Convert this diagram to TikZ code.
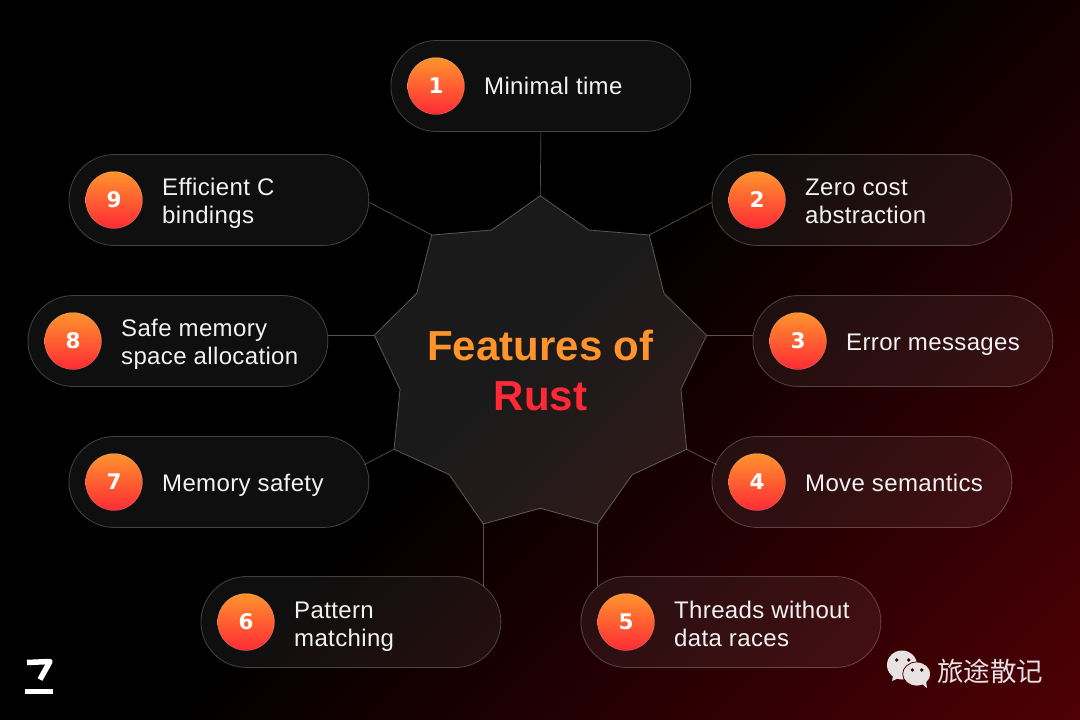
\documentclass[tikz,border=0pt]{standalone}
\usepackage{fontspec}
\setmainfont{Liberation Sans}
\newfontfamily\labelfont[LetterSpace=1.5]{Liberation Sans}
\newfontfamily\digitfont{DejaVu Sans}
\newfontfamily\cjkfont{Noto Sans CJK SC}
\usetikzlibrary{shapes.misc}
\definecolor{rustorange}{HTML}{FF942D}
\definecolor{rustred}{HTML}{FF2A36}
\definecolor{wechatgrey}{HTML}{E8E2E2}
\definecolor{bgdeep}{HTML}{4E0006}
\pgfdeclarehorizontalshading{bgred}{100bp}{color(0bp)=(black);color(49bp)=(black);color(79.5bp)=(bgdeep);color(100bp)=(bgdeep)}
\tikzset{
	pill/.style={draw=white,draw opacity=0.24,fill=white,fill opacity=0.06,rounded rectangle,minimum width=300pt,minimum height=91pt,inner sep=0pt,line width=0.8pt},
	badge/.style={circle,minimum size=57pt,inner sep=0pt,draw=white,draw opacity=0.25,line width=0.5pt,top color=rustorange,bottom color=rustred,text=white,font=\digitfont\fontsize{21.5}{22}\selectfont\bfseries},
	pilltext/.style={anchor=base west,align=left,text=white!95!black,inner sep=0pt,font=\labelfont\fontsize{24}{28}\selectfont},
	link/.style={draw=white,draw opacity=0.32,line width=0.7pt},
	bubble/.style={fill=wechatgrey}
}
\begin{document}
\begin{tikzpicture}[x=1pt,y=-1pt]
	\useasboundingbox (0,0) rectangle (1080,720);
	\begin{scope}
		\clip (0,0) rectangle (1080,720);
		\shade[shading=bgred,shading angle=-45] (0,-180) rectangle (1080,900);
	\end{scope}
	% star outline
	\coordinate (s1) at (540.3,195.7);
	\coordinate (s2) at (589,230);
	\coordinate (s3) at (649.3,235);
	\coordinate (s4) at (664,293.3);
	\coordinate (s5) at (706.7,335.3);
	\coordinate (s6) at (681,389.3);
	\coordinate (s7) at (686.7,449.3);
	\coordinate (s8) at (632.3,474.7);
	\coordinate (s9) at (597.3,524);
	\coordinate (s10) at (540.3,508.3);
	\coordinate (s11) at (483.3,524);
	\coordinate (s12) at (449.3,474.7);
	\coordinate (s13) at (394,449.3);
	\coordinate (s14) at (400,389.3);
	\coordinate (s15) at (374.3,335.3);
	\coordinate (s16) at (416.7,293.3);
	\coordinate (s17) at (431.7,235);
	\coordinate (s18) at (491.7,230);
	\draw[draw=white,draw opacity=0.3,fill=white,fill opacity=0.1,line width=0.8pt] (s1) -- (s2) -- (s3) -- (s4) -- (s5) -- (s6) -- (s7) -- (s8) -- (s9) -- (s10) -- (s11) -- (s12) -- (s13) -- (s14) -- (s15) -- (s16) -- (s17) -- (s18) -- cycle;
	\node[text=rustorange,font=\fontsize{42}{42}\selectfont\bfseries] (title1) at (540.5,345) {Features of};
	\node[text=rustred,font=\fontsize{42}{42}\selectfont\bfseries] (title2) at (540.5,396) {Rust};
	% pills
	\foreach \n/\x/\y/\by/\txt in {1/390/86/94/Minimal time,2/711/200/223/{Zero cost\\abstraction},3/752/341/350/Error messages,4/711/482/491/Move semantics,5/580/622/646/{Threads without\\data races},6/200/622/646/{Pattern\\matching},7/68/482/491/Memory safety,8/27/341/364/{Safe memory\\space allocation},9/68/200/223/{Efficient C\\bindings}} {
		\node[pill,anchor=west] (pill\n) at (\x+0.5,\y) {};
		\node[badge] (badge\n) at (\x+46,\y) {\n};
		\node[pilltext] (label\n) at (\x+94,\by) {\txt};
	}
	% connector ends
	\coordinate (e2) at (711.5,202.5);
	\coordinate (e3) at (752.5,335.3);
	\coordinate (e4) at (716.5,464.5);
	\coordinate (e5) at (597.3,585.5);
	\coordinate (e6) at (483.3,585.5);
	\coordinate (e7) at (364.5,464.5);
	\coordinate (e8) at (328,335.3);
	\coordinate (e9) at (369.5,202.5);
	\draw[link] (pill1.south) -- (s1);
	\draw[link] (e2) -- (s3);
	\draw[link] (e3) -- (s5);
	\draw[link] (e4) -- (s7);
	\draw[link] (e5) -- (s9);
	\draw[link] (e6) -- (s11);
	\draw[link] (e7) -- (s13);
	\draw[link] (e8) -- (s15);
	\draw[link] (e9) -- (s17);
	% logo
	\draw[white,line width=5.5pt,line join=round] (27,662.5) -- (50,661.5) -- (40,679.5);
	\fill[white] (25,689) rectangle (53,694);
	% wechat mark
	\fill[bubble] (902,665) ellipse (15 and 14.5);
	\fill[bubble] (893,676) -- (892,681) -- (899,678) -- cycle;
	\fill[bubble,draw=bgdeep,line width=0.8pt] (916.7,674) ellipse (14 and 12);
	\fill[bubble] (922,684) -- (927,688) -- (926,681) -- cycle;
	\foreach \ex/\ey in {896.7/660,908.7/660,912.3/670,921.7/670}
		\fill[bgdeep!60!black] (\ex,\ey) circle (1.8);
	\node[text=wechatgrey,inner sep=0pt,anchor=west,font=\cjkfont\fontsize{26.5}{26.5}\selectfont] (wechat) at (937,671) {旅途散记};
\end{tikzpicture}
\end{document}
